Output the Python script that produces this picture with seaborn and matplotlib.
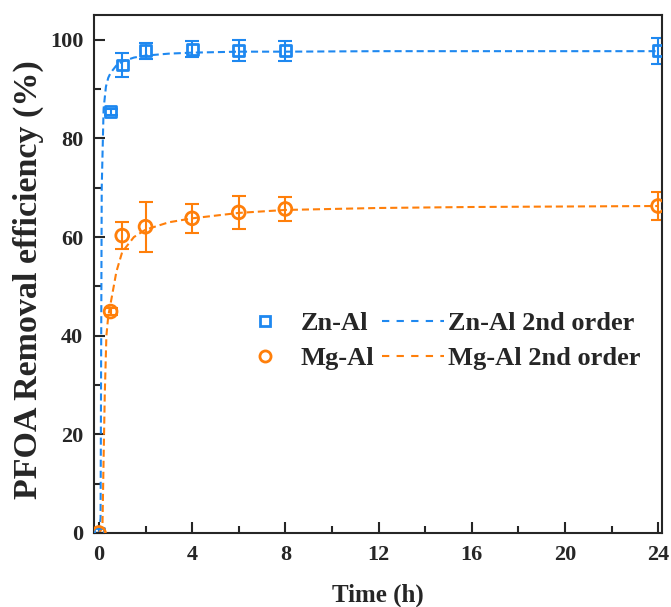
import numpy as np
import pandas as pd
import matplotlib
matplotlib.use("Agg")
import matplotlib.pyplot as plt
import seaborn as sns
from matplotlib.ticker import MultipleLocator

# ---------------- data ----------------
time_h = [0, 0.5, 1, 2, 4, 6, 8, 24]

znal = [0, 85.4, 94.9, 97.8, 98.1, 97.8, 97.8, 97.8]
znal_err = [0, 0.6, 2.5, 1.6, 1.6, 2.1, 2.0, 2.6]

mgal = [0, 44.9, 60.3, 62.1, 63.8, 65.0, 65.7, 66.3]
mgal_err = [0, 0.8, 2.7, 5.1, 3.0, 3.4, 2.4, 2.8]

# 2nd order fit curves
fit_t_zn = [0, 0.07, 0.12, 0.2, 0.3, 0.4, 0.5, 0.75, 1, 1.5, 2, 3, 4, 6, 8, 12, 16, 20, 24]
fit_zn = [0, 3, 70, 86, 90.5, 92.3, 93.3, 94.8, 95.6, 96.4, 96.8, 97.2, 97.4, 97.6, 97.6, 97.7, 97.7, 97.7, 97.7]

fit_t_mg = [0, 0.15, 0.2, 0.25, 0.32, 0.4, 0.5, 0.75, 1, 1.5, 2, 3, 4, 6, 8, 12, 16, 20, 24]
fit_mg = [0, 1, 15, 28, 40, 44, 46.5, 53, 57, 60, 61.5, 63, 63.8, 64.9, 65.5, 65.9, 66.1, 66.2, 66.3]

blue = "#1e88f0"
orange = "#ff7f0a"
dash = (0, (3.4, 1.9))

# ---------------- plot ----------------
sns.set_style("ticks")
plt.rcParams["font.family"] = ["Liberation Serif", "DejaVu Serif"]
plt.rcParams["font.weight"] = "bold"

fig = plt.figure(figsize=(6.71, 6.07), dpi=100)
ax = fig.add_axes([0.1405, 0.122, 0.8455, 0.853])

fits = pd.concat([
    pd.DataFrame({"t": fit_t_zn, "y": fit_zn, "s": "Zn-Al 2nd order"}),
    pd.DataFrame({"t": fit_t_mg, "y": fit_mg, "s": "Mg-Al 2nd order"}),
])
sns.lineplot(data=fits, x="t", y="y", hue="s", palette=[blue, orange],
             sort=False, estimator=None, linewidth=1.5, dashes=False,
             linestyle=dash, ax=ax, legend=False)

ax.errorbar(time_h, znal, yerr=znal_err, fmt="none", ecolor=blue,
            elinewidth=1.5, capsize=5, capthick=1.5)
ax.errorbar(time_h, mgal, yerr=mgal_err, fmt="none", ecolor=orange,
            elinewidth=1.5, capsize=5, capthick=1.5)

sns.scatterplot(x=time_h, y=znal, marker="s", s=60, fc="none", ec=blue,
                linewidth=2, ax=ax, zorder=3)
sns.scatterplot(x=time_h, y=mgal, marker="o", s=85, fc="none", ec=orange,
                linewidth=2, ax=ax, zorder=3)

ax.set_xlim(-0.2, 24.15)
ax.set_ylim(0, 105)
ax.xaxis.set_major_locator(MultipleLocator(4))
ax.xaxis.set_minor_locator(MultipleLocator(2))
ax.yaxis.set_major_locator(MultipleLocator(20))
ax.yaxis.set_minor_locator(MultipleLocator(10))
ax.tick_params(which="both", direction="in", top=False, right=False,
               width=1.5, labelsize=16)
ax.tick_params(which="major", length=8)
ax.tick_params(which="minor", length=5)
ax.tick_params(axis="x", pad=9)
ax.tick_params(axis="y", pad=8)
for sp in ax.spines.values():
    sp.set_linewidth(1.5)

ax.set_xlabel("Time (h)", fontsize=18, fontweight="bold")
ax.set_ylabel("PFOA Removal efficiency (%)", fontsize=24.5, fontweight="bold")
ax.xaxis.set_label_coords(0.5, -0.097)
ax.yaxis.set_label_coords(-0.088, 0.49)

# legend: markers in first column, fit lines in second
h = [
    plt.Line2D([], [], ls="none", marker="s", ms=7, mfc="none", mec=blue, mew=2),
    plt.Line2D([], [], ls="none", marker="o", ms=8, mfc="none", mec=orange, mew=2),
    plt.Line2D([], [], color=blue, lw=1.5, ls=(0, (3.5, 3.5))),
    plt.Line2D([], [], color=orange, lw=1.5, ls=(0, (3.5, 3.5))),
]
labels = ["Zn-Al", "Mg-Al", "Zn-Al 2nd order", "Mg-Al 2nd order"]
ax.legend(h, labels, ncol=2, frameon=False, loc="center left",
          bbox_to_anchor=(0.205, 0.371), prop={"weight": "bold", "size": 19},
          handlelength=2.35, handletextpad=0.15, columnspacing=0.3,
          labelspacing=0.44)

fig.savefig("out.png", dpi=100)
